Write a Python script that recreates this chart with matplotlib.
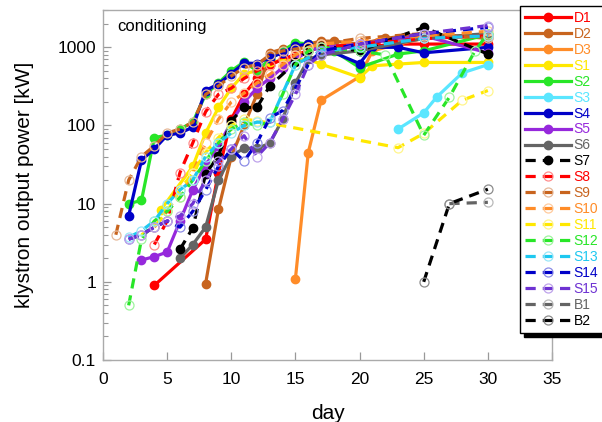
import matplotlib
matplotlib.use("Agg")
import matplotlib.pyplot as plt
from matplotlib.ticker import FixedLocator, NullFormatter, LogLocator
import matplotlib.colors as mcolors

plt.rcParams['font.family'] = ['Liberation Sans', 'DejaVu Sans']

# ---- data (day, power kW) ----
d1_day = [4, 8, 9, 10, 11, 12, 13, 14, 15, 16, 17, 20, 23, 25, 30]
d1_val = [0.9, 3.5, 25, 120, 250, 400, 600, 700, 800, 900, 1000, 1000, 1100, 1100, 1100]

d2_day = [8, 9, 10, 11, 12, 13, 14, 15, 16, 17, 18, 20, 22, 25, 30]
d2_val = [0.95, 8.5, 40, 100, 250, 850, 950, 1000, 1100, 1200, 1200, 1100, 1300, 1500, 1300]

d3_day = [15, 16, 17, 20, 21, 23, 25, 30]
d3_val = [1.1, 45, 210, 420, 900, 1100, 1300, 1400]

s1_day = [4.5, 7, 8, 9, 10, 11, 12, 13, 15, 16, 17, 20, 21, 23, 25, 30]
s1_val = [8.3, 30, 80, 170, 300, 460, 500, 650, 700, 700, 610, 410, 580, 610, 640, 640]

s2_day = [2, 3, 4, 5, 6, 7, 8, 9, 10, 11, 12, 13, 14, 15, 16, 17, 18, 20, 23, 25, 30]
s2_val = [10, 11, 70, 75, 90, 110, 250, 350, 500, 650, 500, 700, 900, 1150, 1100, 1000, 900, 550, 820, 900, 1460]

s3_day = [23, 25, 26, 28, 30]
s3_val = [90, 145, 230, 470, 600]

s4_day = [2, 3, 4, 5, 6, 7, 8, 9, 10, 11, 12, 13, 14, 15, 16, 17, 20, 21, 23, 25, 30]
s4_val = [7, 36, 50, 75, 80, 95, 280, 340, 460, 630, 620, 740, 850, 1040, 1100, 1000, 620, 1000, 1000, 850, 1000]

s5_day = [3, 4, 5, 6, 7, 8, 9, 10, 11, 12, 13, 14, 15, 16, 17, 20, 25, 30]
s5_val = [1.9, 2.1, 2.4, 6, 15, 31, 55, 110, 200, 300, 400, 550, 700, 900, 1000, 1100, 1400, 850]

s6_day = [6, 7, 8, 9, 10, 11, 12, 13, 14, 15, 16, 17, 20, 25, 30]
s6_val = [2, 3, 5, 20, 41, 51, 51, 59, 120, 350, 700, 800, 900, 1300, 1500]

s7_day = [6, 7, 8, 9, 10, 11, 12, 13, 15, 16, 17, 20, 25, 30]
s7_val = [2.6, 4.9, 24, 41, 115, 170, 170, 320, 640, 950, 1050, 900, 1800, 820]

s8_day = [4, 5, 6, 7, 8, 9, 10, 11, 12, 13, 14, 15, 16, 17, 20, 25, 30]
s8_val = [3, 6, 25, 60, 150, 250, 300, 400, 500, 600, 700, 800, 900, 1000, 1100, 1300, 1400]

s9_day = [1, 2, 3, 4, 5, 6, 7, 8, 9, 10, 11, 12, 13, 14, 15, 16, 17, 20, 25, 30]
s9_val = [4, 20, 40, 55, 80, 90, 110, 250, 320, 430, 550, 600, 800, 900, 950, 1000, 1100, 1300, 1500, 1300]

s10_day = [4, 5, 6, 7, 8, 9, 10, 11, 12, 13, 14, 15, 16, 17, 20, 25, 30]
s10_val = [5, 8, 12, 25, 60, 120, 200, 260, 350, 450, 600, 800, 1000, 1100, 1200, 1400, 1600]

s11_day = [3, 4, 5, 6, 7, 8, 9, 10, 11, 12, 23, 25, 28, 30]
s11_val = [4, 5, 8, 15, 25, 45, 70, 100, 120, 115, 52, 79, 210, 280]

s12_day = [2, 3, 4, 5, 6, 7, 8, 9, 10, 11, 12, 13, 14, 15, 16, 17, 20, 22, 25, 27, 29, 30]
s12_val = [0.5, 3.5, 6, 8, 12, 20, 35, 60, 90, 110, 100, 110, 250, 600, 900, 1000, 900, 800, 75, 230, 900, 1500]

s13_day = [2, 3, 4, 5, 6, 7, 8, 9, 10, 11, 12, 13, 15, 17, 20, 25, 30]
s13_val = [3.7, 4.5, 6, 10, 15, 20, 40, 60, 80, 100, 110, 110, 600, 900, 1000, 1300, 1400]

s14_day = [2, 3, 4, 5, 6, 7, 8, 9, 10, 11, 12, 13, 14, 15, 16, 17, 20, 25, 30]
s14_val = [3.5, 4, 5, 6, 5, 8, 15, 30, 50, 35, 60, 125, 155, 300, 600, 900, 1100, 1500, 1800]

s15_day = [2, 3, 4, 5, 6, 7, 8, 9, 10, 11, 12, 13, 14, 15, 16, 17, 20, 25, 30]
s15_val = [3.5, 4, 5, 6, 7, 10, 20, 35, 50, 74, 40, 60, 120, 250, 600, 800, 1100, 1500, 1900]

b1_day = [27, 30]
b1_val = [10, 10.4]

b2_day = [25, 27, 30]
b2_val = [1.0, 10, 15.3]

labels = ['D1', 'D2', 'D3', 'S1', 'S2', 'S3', 'S4', 'S5', 'S6', 'S7',
          'S8', 'S9', 'S10', 'S11', 'S12', 'S13', 'S14', 'S15', 'B1', 'B2']
days = [d1_day, d2_day, d3_day, s1_day, s2_day, s3_day, s4_day, s5_day, s6_day, s7_day,
        s8_day, s9_day, s10_day, s11_day, s12_day, s13_day, s14_day, s15_day, b1_day, b2_day]
vals = [d1_val, d2_val, d3_val, s1_val, s2_val, s3_val, s4_val, s5_val, s6_val, s7_val,
        s8_val, s9_val, s10_val, s11_val, s12_val, s13_val, s14_val, s15_val, b1_val, b2_val]

colors = ['#ff0000', '#c8641e', '#ff8c28', '#ffe800', '#28e628', '#5ae6ff', '#0000c8',
          '#9628dc', '#646464', '#000000',
          '#ff0000', '#c8641e', '#ff8c28', '#ffe800', '#28e628', '#1ec8f0', '#0000c8',
          '#6e32d2', '#646464', '#000000']
dashed = [False] * 9 + [True] * 11
filled = [True] * 10 + [False] * 10

fig = plt.figure(figsize=(6.02, 4.22), dpi=100)
ax = fig.add_axes([103 / 602, 62 / 422, 449 / 602, 350 / 422])

handles = []
for lab, x, y, c, ds, fl in zip(labels, days, vals, colors, dashed, filled):
    rgb = mcolors.to_rgb(c)
    pale = tuple(0.55 * 1 + 0.45 * v for v in rgb)
    kw = dict(color=c, lw=2.3, marker='o', label=lab)
    if ds:
        kw['dashes'] = (3.2, 2.2)
    if fl:
        kw.update(markersize=6.0, markerfacecolor=c, markeredgecolor=c)
    else:
        kw.update(markersize=6.5, markerfacecolor='none', markeredgecolor=pale,
                  markeredgewidth=0.9)
    h, = ax.plot(x, y, **kw)
    handles.append(h)

ax.set_yscale('log')
ax.set_xlim(0, 35)
ax.set_ylim(0.1, 3000)
ax.set_xticks([0, 5, 10, 15, 20, 25, 30, 35])
ax.yaxis.set_major_locator(FixedLocator([0.1, 1, 10, 100, 1000]))
ax.set_yticklabels(['0.1', '1', '10', '100', '1000'])
ax.yaxis.set_minor_locator(LogLocator(base=10, subs=range(2, 10)))
ax.yaxis.set_minor_formatter(NullFormatter())
ax.tick_params(axis='both', which='both', direction='in', colors='#999999',
               labelcolor='black', labelsize=12.5, top=False, right=False)
ax.tick_params(axis='both', which='major', length=6, width=0.9)
ax.tick_params(axis='y', which='minor', length=3.5, width=0.8)
ax.tick_params(axis='x', which='major', pad=9)
ax.tick_params(axis='y', which='major', pad=5)
for sp in ax.spines.values():
    sp.set_color('#aaaaaa')
    sp.set_linewidth(1.0)

ax.set_xlabel('day', fontsize=15, labelpad=12)
ax.set_ylabel('klystron output power [kW]', fontsize=15, labelpad=17)
ax.text(0.032, 0.975, 'conditioning', transform=ax.transAxes, fontsize=12,
        va='top', ha='left')

leg = fig.legend(handles=handles, loc='upper left',
                 bbox_to_anchor=(520 / 602, 1 - 6 / 422),
                 bbox_transform=fig.transFigure,
                 fontsize=10, labelcolor='linecolor', frameon=True, fancybox=False,
                 shadow={'color': 'black', 'alpha': 1.0, 'ox': 3, 'oy': -3},
                 handlelength=3.3, handletextpad=0.2, labelspacing=0.14,
                 borderpad=0.35, borderaxespad=0.0)
leg.get_frame().set_edgecolor('black')
leg.get_frame().set_linewidth(1.0)
leg.get_frame().set_alpha(1.0)

fig.savefig('out.png', dpi=100)
